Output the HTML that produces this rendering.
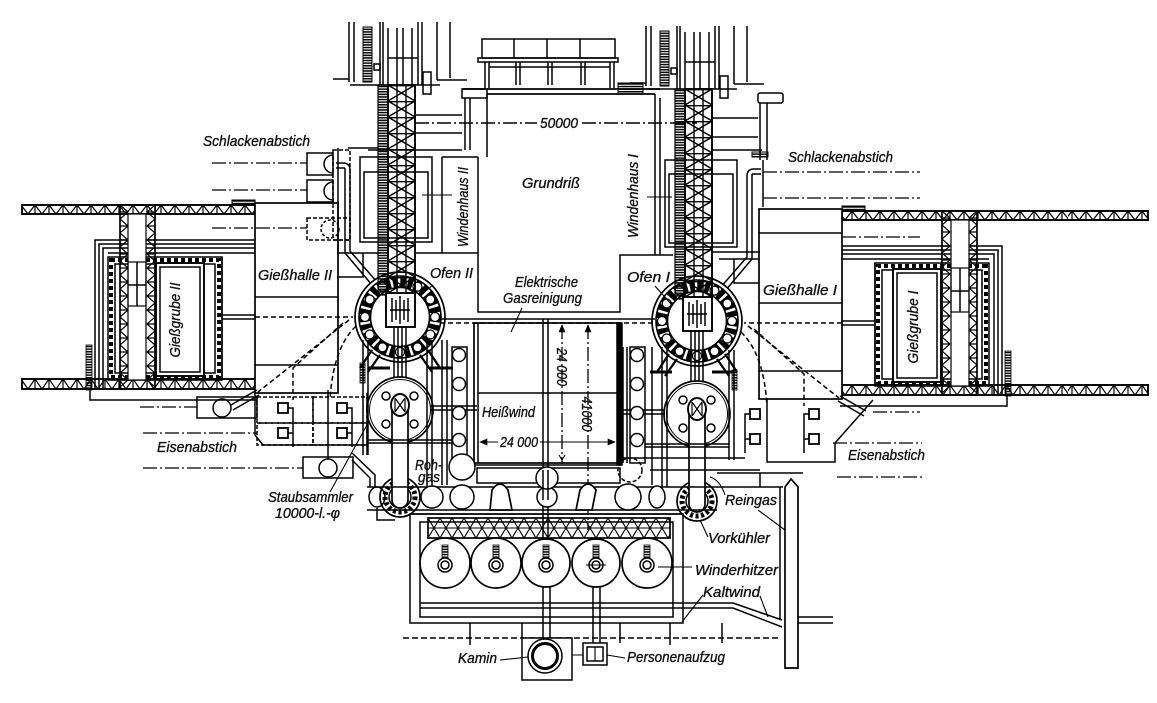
<!DOCTYPE html>
<html><head><meta charset="utf-8">
<style>
html,body{margin:0;padding:0;background:#fff;width:1157px;height:703px;overflow:hidden}
svg{display:block}
text{font-family:"Liberation Sans","DejaVu Sans",sans-serif;font-style:italic;font-size:15px;fill:#111;stroke:#111;stroke-width:0.35px}
</style></head><body>
<svg width="1157" height="703" viewBox="0 0 1157 703" xmlns="http://www.w3.org/2000/svg">
<defs>
<pattern id="tb1" x="0" y="205" width="14" height="9" patternUnits="userSpaceOnUse"><path d="M0,9L7,0L14,9M7,0V9" fill="none" stroke="#000" stroke-width="1.2"/></pattern>
<pattern id="tb2" x="0" y="379" width="14" height="10" patternUnits="userSpaceOnUse"><path d="M0,10L7,0L14,10M7,0V10" fill="none" stroke="#000" stroke-width="1.2"/></pattern>
<pattern id="tb3" x="1" y="211" width="14" height="9" patternUnits="userSpaceOnUse"><path d="M0,9L7,0L14,9M7,0V9" fill="none" stroke="#000" stroke-width="1.2"/></pattern>
<pattern id="tb4" x="1" y="385" width="14" height="10" patternUnits="userSpaceOnUse"><path d="M0,10L7,0L14,10M7,0V10" fill="none" stroke="#000" stroke-width="1.2"/></pattern>
<pattern id="tcol" x="120" y="205" width="35" height="14" patternUnits="userSpaceOnUse"><path d="M0,0L8,7L0,14M0,7H8M35,0L27,7L35,14M27,7H35" fill="none" stroke="#000" stroke-width="1.2"/></pattern>
<pattern id="tow" x="388" y="85" width="27" height="16" patternUnits="userSpaceOnUse"><path d="M0,0L27,16M27,0L0,16M0,0.7H27M9,0V16M18,0V16" fill="none" stroke="#000" stroke-width="1.4"/></pattern>
<pattern id="hat" x="0" y="0" width="4" height="2.6" patternUnits="userSpaceOnUse"><rect width="4" height="1.5" fill="#000"/></pattern>
<pattern id="tbot" x="428" y="518" width="24" height="20" patternUnits="userSpaceOnUse"><path d="M0,0L12,20L24,0M0,20L12,0L24,20M0,10H24" fill="none" stroke="#000" stroke-width="1.1"/></pattern>
</defs>
<rect width="1157" height="703" fill="#fff"/>
<g fill="none" stroke="#000" stroke-width="1.5">

<!-- ===== Hall group (left), mirrored for right ===== -->
<g id="hall">
<rect x="22" y="205" width="233" height="9" fill="url(#tb1)" stroke-width="1.9"/>
<rect x="22" y="379" width="233" height="10" fill="url(#tb2)" stroke-width="1.9"/>
<path d="M95,389V240H255M99,389V244H255M103,389V248H255M108,253H255"/>
<rect x="108" y="257" width="114" height="123"/>
<rect x="111" y="260" width="108" height="117" stroke-width="4" stroke-dasharray="4 3"/>
<rect x="115" y="264" width="100" height="109"/>
<rect x="156" y="263" width="48" height="113" fill="#fff" stroke-width="1.9"/>
<rect x="160" y="267" width="40" height="105"/>
<rect x="120" y="205" width="35" height="184" fill="url(#tcol)" stroke-width="1.7"/>
<rect x="128" y="214" width="18" height="166" fill="#fff" stroke-width="1.2"/>
<rect x="128" y="262" width="18" height="44" stroke-width="1.2"/>
<path d="M137,262V306M128,285H146"/>
<path d="M222,257V380M222,315H255M222,319H255"/>
<rect x="255" y="203" width="83" height="190" fill="#fff" stroke-width="1.7"/>
<path d="M255,297H338M255,365H338"/>
<rect x="232" y="200" width="23" height="5" fill="url(#hat)" stroke-width="1"/>
<rect x="86" y="345" width="6" height="45" fill="url(#hat)" stroke-width="0.8"/>
<path d="M90,389V400H257"/>
<path d="M338,277H363V253M338,253H378"/>
<path d="M345,168V253L372,285M350,170V251L377,282"/>
<path d="M336,163H343Q350,163 350,170M336,168H345"/>
<path d="M255,317H353M349,320L258,392M343,323L293,368V400M356,326Q333,348 330,400" stroke-dasharray="5 3"/>
<rect x="278" y="403" width="10" height="10" stroke-width="1.8"/>
<rect x="278" y="428" width="10" height="10" stroke-width="1.8"/>
<rect x="337" y="403" width="10" height="10" stroke-width="1.8"/>
<rect x="337" y="428" width="10" height="10" stroke-width="1.8"/>
<path d="M288,408H293V447M288,433H293M347,408H352V447M347,433H352"/>
<path d="M231,405L257,390M233,410L259,395"/>
</g>
<g transform="translate(1097,6) scale(-1,1)"><use href="#hall"/></g>
<rect x="1068" y="212" width="80" height="7" fill="#fff" stroke="none"/>
<rect x="1068" y="386" width="80" height="8" fill="#fff" stroke="none"/>
<rect x="1068" y="211" width="80" height="9" fill="url(#tb3)" stroke="none"/>
<rect x="1068" y="385" width="80" height="10" fill="url(#tb4)" stroke="none"/>
<path d="M1068,211H1148V220H1068M1068,385H1148V395H1068" stroke-width="1.9"/>
<path d="M758,233H842"/>

<!-- ===== Furnace + tower + stove group (left), translated for right ===== -->
<g id="furn">
<path d="M349,22V82M354,22V82M380,22V85M383,22V85M418,22V85M422,22V85M437,22V80M450,22V78M388,28V85M397,28V85M403,28V85M412,28V85M333,79H349M350,85H440M437,80H467M388,58H418"/>
<rect x="363" y="27" width="9" height="55" fill="url(#hat)" stroke-width="1"/>
<rect x="374" y="64" width="6" height="6"/>
<rect x="423" y="72" width="8" height="22"/>
<g transform="translate(400,317)">
<circle r="45" stroke-width="1.7" fill="#fff"/>
<circle r="35" stroke-width="11" stroke-dasharray="5 2.5"/>
<circle r="41" stroke-width="1.6"/>
<circle r="29.5" stroke-width="1.6"/>
<g fill="#fff" stroke-width="1.3">
<circle cx="35" cy="0" r="4.5"/><circle cx="30.3" cy="17.5" r="4.5"/><circle cx="17.5" cy="30.3" r="4.5"/><circle cx="0" cy="35" r="4.5"/><circle cx="-17.5" cy="30.3" r="4.5"/><circle cx="-30.3" cy="17.5" r="4.5"/><circle cx="-35" cy="0" r="4.5"/><circle cx="-30.3" cy="-17.5" r="4.5"/><circle cx="-17.5" cy="-30.3" r="4.5"/><circle cx="30.3" cy="-17.5" r="4.5"/><circle cx="17.5" cy="-30.3" r="4.5"/>
</g>
</g>
<rect x="378" y="85" width="10" height="210" fill="url(#hat)" stroke-width="1.2"/>
<rect x="388" y="85" width="27" height="210" fill="url(#tow)" stroke-width="1.9"/>
<rect x="386" y="293" width="29" height="34" fill="#fff" stroke-width="1.9"/>
<path d="M392,298V322M396,300V320M400,296V324M404,300V320M408,298V322M390,310H410" stroke-width="1.5"/>
<path d="M394,327V378M398,327V378M402,327V378M406,327V378"/>
<path d="M372,350L360,368M380,355L368,372M428,350L440,368M420,355L432,372" stroke-width="2.2"/>
<g transform="translate(400,410)">
<circle r="33" stroke-width="1.7" fill="#fff"/>
<circle r="30.5" stroke-width="1"/>
<circle cx="-14" cy="-14" r="4"/><circle cx="14" cy="-14" r="4"/><circle cx="-14" cy="14" r="4"/><circle cx="14" cy="14" r="4"/>
</g>
<circle cx="400" cy="497" r="20" stroke-width="1.7" fill="#fff"/>
<circle cx="400" cy="497" r="15" stroke-width="5" stroke-dasharray="3 2.5"/>
<circle cx="400" cy="497" r="11"/>
<rect x="392" y="398" width="16" height="110" rx="8" fill="#fff" stroke-width="1.7"/>
<ellipse cx="400" cy="405" rx="9" ry="11" fill="#fff" stroke-width="1.9"/>
<path d="M395,398L405,412M405,398L395,412M395,398V412M405,398V412" stroke-width="1.2"/>
</g>
<use href="#furn" transform="translate(297,4)"/>

<!-- ===== Central top ===== -->
<rect x="482" y="39" width="133" height="19"/>
<path d="M514,39V58M547,39V58M580,39V58"/>
<rect x="478" y="58" width="140" height="4"/>
<path d="M485,62V88M489,62V88M516,62V85M520,62V85M548,62V85M552,62V85M581,62V85M585,62V85M610,62V88M614,62V88M489,67H610"/>
<path d="M462,89H660M487,94H655" stroke-width="1.7"/>
<rect x="618" y="83" width="25" height="11" fill="url(#hat)" stroke-width="1"/>
<rect x="462" y="89" width="25" height="9" stroke-width="1.5"/>
<path d="M465,98V150M470,98V150M415,115H462M415,133H462M368,150H462M338,148V253M348,148H378"/>
<path d="M487,94V157M478,157V312H620V255H655V94M660,98V255M442,157H478M442,157V253M415,253H478M620,255H673M712,252H760"/>
<path d="M415,123H537M582,123H697" stroke-dasharray="14 3 2 3"/>
<rect x="360" y="157" width="72" height="85"/>
<rect x="364" y="172" width="64" height="66"/>
<rect x="665" y="160" width="72" height="87"/>
<rect x="669" y="174" width="64" height="69"/>
<path d="M422,195H452M647,197H672M433,285L423,293M655,286L672,305M522,308L511,332" stroke-width="1.1"/>
<path d="M712,118H758M712,137H758M712,150H762"/>
<rect x="758" y="93" width="25" height="10" rx="2"/>
<path d="M760,103V160M767,103V160M763,160V207"/>
<rect x="752" y="152" width="16" height="5" fill="url(#hat)" stroke-width="1"/>

<!-- slag left -->
<rect x="307" y="153" width="26" height="22"/>
<rect x="307" y="180" width="26" height="22"/>
<path d="M333,155A9,9 0 0 0 333,173M333,182A9,9 0 0 0 333,200"/>
<rect x="333" y="150" width="17" height="90" stroke-dasharray="4 2"/>
<rect x="307" y="218" width="43" height="22" stroke-dasharray="4 2"/>
<circle cx="330" cy="229" r="9" stroke-dasharray="3 2"/>

<!-- dash-dot leader lines -->
<g stroke-dasharray="14 3 2 3" stroke-width="1.3">
<path d="M212,163H307M212,190H307M212,228H307M140,407H197M143,433H257M143,468H303"/>
<path d="M763,172H920M763,198H920M842,237H920M873,412H920M833,443H922M837,477H922"/>
<path d="M562,325V462M588,325V530"/>
</g>

<!-- left Eisenabstich / Staubsammler -->
<rect x="197" y="397" width="60" height="21"/>
<circle cx="222" cy="408" r="9"/>
<g stroke-dasharray="4 2"><rect x="257" y="397" width="56" height="26"/><rect x="313" y="397" width="54" height="26"/><rect x="257" y="423" width="56" height="22"/><rect x="313" y="423" width="54" height="22"/></g>
<path d="M255,393V435L263,445H367M367,393V455M328,390V459"/>
<rect x="303" y="457" width="50" height="21"/>
<circle cx="328" cy="468" r="9"/>
<path d="M330,492L367,425" stroke-width="1.1"/>
<path d="M352,453L375,475V487M352,460L370,478V487"/>
<ellipse cx="377" cy="497" rx="8" ry="10"/>
<path d="M377,508V520H395"/>

<!-- left stove surroundings -->
<path d="M363,340V455M368,340V455M427,340V487M432,340V487M442,340V485M447,340V485"/>
<path d="M368,368H390M430,368H453M650,372H672M712,372H735" stroke-width="3"/>
<path d="M368,440H452M368,443H452M430,406H477M430,410H477"/>
<rect x="360" y="363" width="5" height="20" fill="url(#hat)" stroke-width="0.8"/>
<rect x="452" y="347" width="15" height="116"/>
<g fill="#fff"><circle cx="459" cy="355" r="6.5"/><circle cx="459" cy="384" r="6.5"/><circle cx="459" cy="413" r="6.5"/><circle cx="459" cy="440" r="6.5"/></g>

<!-- right stove surroundings -->
<path d="M729,350V460M734,350V460M662,347V487M667,347V487M652,347V485M623,347V463M627,347V463"/>
<path d="M645,444H729M645,447H729M620,410H665M620,414H665M622,458H745M650,470H760"/>
<rect x="732" y="370" width="5" height="20" fill="url(#hat)" stroke-width="0.8"/>
<rect x="630" y="347" width="15" height="116"/>
<g fill="#fff"><circle cx="637" cy="355" r="6.5"/><circle cx="637" cy="384" r="6.5"/><circle cx="637" cy="413" r="6.5"/><circle cx="637" cy="440" r="6.5"/></g>
<path d="M767,398V462H835V443L873,400"/>

<!-- central lower -->
<path d="M440,319H655"/>
<path d="M440,323H655" stroke-dasharray="5 3"/>
<rect x="474" y="323" width="145" height="140" stroke-width="1.7"/>
<path d="M478,323V463M478,393H617M474,465H620"/>
<rect x="617" y="323" width="5" height="142" fill="#000"/>
<path d="M543,319V545M548,319V545"/>
<path d="M480,442H615" stroke-width="1"/>
<path d="M480,442L487,439V445ZM615,442L608,439V445ZM562,325L559,332H565ZM588,325L585,332H591Z" fill="#000" stroke-width="0.6"/>
<path d="M559,455L562,460L565,455M562,460V464" stroke-width="1"/>
<rect x="477" y="468" width="143" height="15"/>
<circle cx="462" cy="467" r="13" fill="#fff"/>
<circle cx="630" cy="470" r="12" stroke-dasharray="4 2"/>
<path d="M367,487H717M367,510H717M410,514H683"/>
<g fill="#fff">
<circle cx="432" cy="497" r="11"/><circle cx="462" cy="497" r="12"/><circle cx="547" cy="497" r="10"/><circle cx="628" cy="497" r="13"/><ellipse cx="657" cy="497" rx="8" ry="11"/>
<circle cx="547" cy="478" r="11"/>
</g>
<path d="M492,490Q500,478 508,490L512,510H490ZM580,490Q588,478 596,490L592,510H576Z" fill="#fff" stroke-width="1.7"/>
<path d="M543,470V500M548,470V500"/>

<!-- stove block -->
<rect x="410" y="514" width="273" height="109"/>
<rect x="420" y="522" width="253" height="95"/>
<rect x="428" y="518" width="242" height="20" fill="url(#tbot)" stroke-width="1.7"/>
<path d="M420,603H733L782,620M420,608H733L782,627M797,617H833M797,623H833"/>
<path d="M403,638H780" stroke-dasharray="6 3"/>
<path d="M470,623V645M522,623V638M620,623V643M670,623V645M722,623V643"/>
<g stroke-width="1.7" fill="#fff">
<circle cx="445" cy="563" r="25"/><circle cx="496" cy="563" r="25"/><circle cx="546" cy="563" r="24"/><circle cx="596" cy="563" r="24"/><circle cx="647" cy="563" r="25"/>
</g>
<g>
<circle cx="445" cy="565" r="7"/><circle cx="445" cy="565" r="4"/><rect x="442" y="545" width="6" height="13" fill="url(#hat)" stroke-width="0.8"/>
<circle cx="496" cy="565" r="7"/><circle cx="496" cy="565" r="4"/><rect x="493" y="545" width="6" height="13" fill="url(#hat)" stroke-width="0.8"/>
<circle cx="546" cy="565" r="7"/><circle cx="546" cy="565" r="4"/><rect x="543" y="545" width="6" height="13" fill="url(#hat)" stroke-width="0.8"/>
<circle cx="596" cy="565" r="7"/><circle cx="596" cy="565" r="4"/><rect x="593" y="545" width="6" height="13" fill="url(#hat)" stroke-width="0.8"/>
<circle cx="647" cy="565" r="7"/><circle cx="647" cy="565" r="4"/><rect x="644" y="545" width="6" height="13" fill="url(#hat)" stroke-width="0.8"/>
</g>
<path d="M586,565H606M658,567H692" stroke-width="1.1"/>
<path d="M543,587V640M550,587V640M593,587V643M600,587V643"/>
<rect x="522" y="638" width="50" height="42" fill="#fff"/>
<circle cx="545" cy="656" r="17"/>
<circle cx="545" cy="656" r="12.5" stroke-width="3"/>
<rect x="583" y="643" width="24" height="22" fill="#fff"/>
<rect x="587" y="647" width="16" height="14"/>
<path d="M595,647V661M572,655H583M500,660L528,657M625,658L607,655" stroke-width="1.1"/>

<!-- Reingas pipe -->
<polygon points="785,668 785,487 791,479 798,487 798,668" fill="#fff" stroke-width="1.7"/>
<path d="M780,487V620M717,473H803M717,487H783M760,473V487"/>
<path d="M725,495Q720,480 710,477M708,537L700,520M703,595L682,622M760,596L768,617M758,510L785,530" stroke-width="1.1"/>
</g>

<!-- ===== Labels ===== -->
<text x="203" y="146" textLength="107" lengthAdjust="spacingAndGlyphs">Schlackenabstich</text>
<text x="788" y="162" textLength="105" lengthAdjust="spacingAndGlyphs">Schlackenabstich</text>
<text x="540" y="128" textLength="38" lengthAdjust="spacingAndGlyphs">50000</text>
<text x="522" y="188" textLength="58" lengthAdjust="spacingAndGlyphs">Grundriß</text>
<text transform="translate(468,207) rotate(-90)" text-anchor="middle" textLength="80" lengthAdjust="spacingAndGlyphs">Windenhaus II</text>
<text transform="translate(638,196) rotate(-90)" text-anchor="middle" textLength="84" lengthAdjust="spacingAndGlyphs">Windenhaus I</text>
<text x="430" y="278" textLength="43" lengthAdjust="spacingAndGlyphs">Ofen II</text>
<text x="627" y="282" textLength="43" lengthAdjust="spacingAndGlyphs">Ofen I</text>
<text x="515" y="287" textLength="63" lengthAdjust="spacingAndGlyphs">Elektrische</text>
<text x="503" y="303" textLength="79" lengthAdjust="spacingAndGlyphs">Gasreinigung</text>
<text x="258" y="280" textLength="74" lengthAdjust="spacingAndGlyphs">Gießhalle II</text>
<text x="763" y="295" textLength="74" lengthAdjust="spacingAndGlyphs">Gießhalle I</text>
<text transform="translate(180,320) rotate(-90)" text-anchor="middle" textLength="75" lengthAdjust="spacingAndGlyphs">Gießgrube II</text>
<text transform="translate(918,327) rotate(-90)" text-anchor="middle" textLength="73" lengthAdjust="spacingAndGlyphs">Gießgrube I</text>
<text x="157" y="452" textLength="80" lengthAdjust="spacingAndGlyphs">Eisenabstich</text>
<text x="848" y="460" textLength="77" lengthAdjust="spacingAndGlyphs">Eisenabstich</text>
<text x="268" y="502" textLength="85" lengthAdjust="spacingAndGlyphs">Staubsammler</text>
<text x="275" y="518" textLength="65" lengthAdjust="spacingAndGlyphs">10000-l.-φ</text>
<text x="415" y="470" textLength="27" lengthAdjust="spacingAndGlyphs">Roh-</text>
<text x="418" y="482" textLength="22" lengthAdjust="spacingAndGlyphs">gas</text>
<text x="482" y="417" textLength="53" lengthAdjust="spacingAndGlyphs">Heißwind</text>
<rect x="498" y="435" width="42" height="14" fill="#fff"/>
<text x="500" y="447" textLength="38" lengthAdjust="spacingAndGlyphs">24 000</text>
<text transform="translate(557,367) rotate(90)" text-anchor="middle" textLength="38" lengthAdjust="spacingAndGlyphs">24 000</text>
<text transform="translate(582,414) rotate(90)" text-anchor="middle" textLength="35" lengthAdjust="spacingAndGlyphs">41000</text>
<text x="725" y="505" textLength="52" lengthAdjust="spacingAndGlyphs">Reingas</text>
<text x="708" y="543" textLength="62" lengthAdjust="spacingAndGlyphs">Vorkühler</text>
<text x="695" y="575" textLength="83" lengthAdjust="spacingAndGlyphs">Winderhitzer</text>
<text x="703" y="597" textLength="57" lengthAdjust="spacingAndGlyphs">Kaltwind</text>
<text x="458" y="663" textLength="39" lengthAdjust="spacingAndGlyphs">Kamin</text>
<text x="627" y="662" textLength="98" lengthAdjust="spacingAndGlyphs">Personenaufzug</text>
</svg>
</body></html>
